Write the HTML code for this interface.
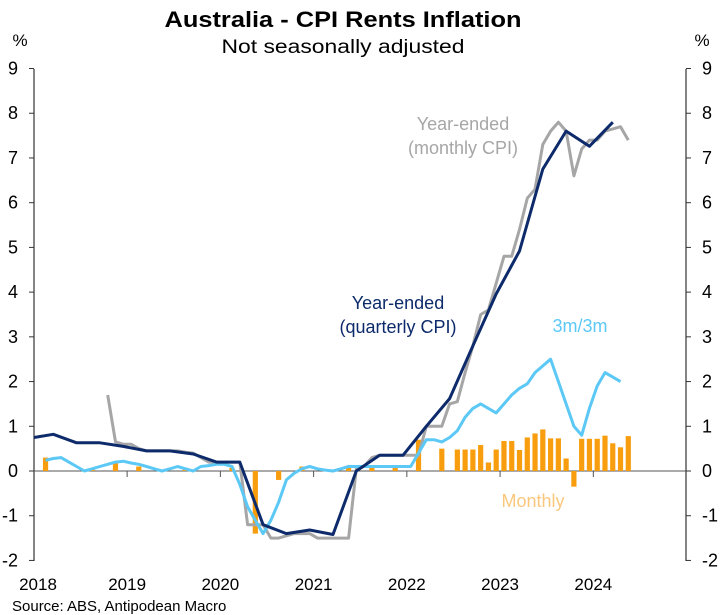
<!DOCTYPE html>
<html><head><meta charset="utf-8"><style>
html,body{margin:0;padding:0;background:#fff;}
svg{display:block;font-family:"Liberation Sans",Arial,sans-serif;}
</style></head><body>
<svg id="chart" width="720" height="615" viewBox="0 0 720 615">
<text x="343" y="27" text-anchor="middle" font-size="22" font-weight="bold" textLength="357" lengthAdjust="spacingAndGlyphs">Australia - CPI Rents Inflation</text>
<text x="343" y="53" text-anchor="middle" font-size="19" textLength="243" lengthAdjust="spacingAndGlyphs">Not seasonally adjusted</text>
<text x="20" y="46" text-anchor="middle" font-size="17">%</text>
<text x="702" y="46" text-anchor="middle" font-size="17">%</text>
<g id="axes"></g>
<g id="bars"></g>
<g id="lines"></g>
<text x="463" y="130" text-anchor="middle" font-size="18" fill="#a6a6a6">Year-ended</text>
<text x="463" y="154" text-anchor="middle" font-size="18" fill="#a6a6a6">(monthly CPI)</text>
<text x="398" y="309" text-anchor="middle" font-size="18" fill="#0d2a6b">Year-ended</text>
<text x="398" y="333" text-anchor="middle" font-size="18" fill="#0d2a6b">(quarterly CPI)</text>
<text x="580" y="332" text-anchor="middle" font-size="18" fill="#5bc8f5">3m/3m</text>
<text x="533" y="507" text-anchor="middle" font-size="18" fill="#fac87d">Monthly</text>
<text x="12" y="611" font-size="15">Source: ABS, Antipodean Macro</text>
</svg>
<script>
const yTicks=[9,8,7,6,5,4,3,2,1,0,-1,-2];
const yearLabels=["2018","2019","2020","2021","2022","2023","2024"];
const quarterlyIdx=[0,1,2,3,4,5,6,7,8,9,10,11,12,13,14,15,16,17,18,19,20,21,22,23,24,25];
const quarterlyVals=[0.75,0.82,0.63,0.63,0.55,0.45,0.45,0.38,0.2,0.2,-1.2,-1.4,-1.32,-1.42,0,0.35,0.35,1.0,1.62,2.8,3.96,4.92,6.75,7.6,7.26,7.8];
const monthlyStart=10;
const monthlyVals=[1.7,0.65,0.6,0.6,0.5,0.45,0.45,0.45,0.45,0.45,0.42,0.4,0.3,0.2,0.2,0.2,0.2,0.2,-1.2,-1.2,-1.2,-1.5,-1.5,-1.45,-1.4,-1.4,-1.4,-1.5,-1.5,-1.5,-1.5,-1.5,0.05,0.1,0.3,0.35,0.35,0.35,0.35,0.35,0.35,1.0,1.0,1.0,1.5,1.55,2.2,2.8,3.5,3.6,4.2,4.8,4.8,5.4,6.1,6.3,7.3,7.6,7.8,7.6,6.6,7.2,7.4,7.4,7.6,7.65,7.7,7.4];
const threeStart=2;
const threeVals=[0.24,0.28,0.3,0.2,0.1,0.0,0.05,0.1,0.15,0.2,0.22,0.18,0.15,0.1,0.05,0.0,0.05,0.1,0.05,0.0,0.1,0.12,0.15,0.15,0.1,-0.3,-0.8,-1.1,-1.4,-1.1,-0.7,-0.2,-0.05,0.05,0.1,0.05,0.02,0.0,0.05,0.1,0.1,0.1,0.1,0.1,0.1,0.1,0.1,0.1,0.4,0.7,0.7,0.65,0.75,0.9,1.2,1.4,1.5,1.4,1.3,1.5,1.7,1.85,1.95,2.2,2.35,2.5,2.0,1.5,1.0,0.8,1.4,1.9,2.2,2.1,2.0];
const barMonths=[2,8,11,14,20,26,29,32,35,41,44,47,50,53,55,56,57,58,59,60,61,62,63,64,65,66,67,68,69,70,71,72,73,74,75,76,77];
const barVals=[0.3,0.05,0.2,0.1,0.07,0.07,-1.4,-0.2,0.1,0.07,0.07,0.07,0.7,0.5,0.48,0.48,0.48,0.58,0.19,0.48,0.67,0.67,0.47,0.75,0.84,0.93,0.73,0.73,0.28,-0.35,0.72,0.72,0.72,0.79,0.62,0.53,0.78];

const NS="http://www.w3.org/2000/svg";
const L=34,R=686,T=69,B=561;
function y(v){return 471-v*44.72;}
function x(m){return 30+m*7.77;}
function mk(tag,attrs,parent){const e=document.createElementNS(NS,tag);for(const k in attrs)e.setAttribute(k,attrs[k]);parent.appendChild(e);return e;}
const axes=document.getElementById('axes');
let e=mk('line',{x1:L,y1:T,x2:L,y2:B,stroke:'#333','stroke-width':1.2},axes);


e=mk('line',{x1:R,y1:T,x2:R,y2:B,stroke:'#333','stroke-width':1.2},axes);


e=mk('line',{x1:L-5,y1:y(0),x2:R+5,y2:y(0),stroke:'#555','stroke-width':1},axes);


yTicks.forEach(v=>{
  let t=mk('line',{x1:L-5,y1:y(v),x2:L,y2:y(v),stroke:'#333'},axes);
  
  
  t=mk('line',{x1:R,y1:y(v),x2:R+5,y2:y(v),stroke:'#333'},axes);
  
  
  let tx=mk('text',{x:18,y:y(v)+6,'text-anchor':'end','font-size':18},axes);tx.textContent=v;
  
  
  tx=mk('text',{x:702,y:y(v)+6,'text-anchor':'start','font-size':18},axes);tx.textContent=v;
  
  
});
yearLabels.forEach((lab,i)=>{
  const xx=x(i*12+0.5);
  if(i>0){let t=mk('line',{x1:xx,y1:y(0),x2:xx,y2:y(0)+6,stroke:'#555'},axes);
  
  }
  let tx=mk('text',{x:i==0?38:xx,y:590,'text-anchor':'middle','font-size':17},axes);tx.textContent=lab;
  
  
});
const bars=document.getElementById('bars');
barMonths.forEach((m,i)=>{
  const v=barVals[i];const top=Math.min(y(v),y(0));const h=Math.abs(y(v)-y(0));
  const b=mk('rect',{x:x(m)-2.6,y:top,width:5.2,height:h,fill:'#f79d0e'},bars);
  
  
});
const lines=document.getElementById('lines');
function poly(pts,col,w,name){
  const p=mk('polyline',{points:pts.map(a=>a[0].toFixed(1)+','+a[1].toFixed(1)).join(' '),fill:'none',stroke:col,'stroke-width':w,'stroke-linejoin':'round'},lines);
  
  
}
poly(monthlyVals.map((v,i)=>[x(monthlyStart+i),y(v)]),'#a6a6a6',3,'monthly-cpi-line');
poly(threeVals.map((v,i)=>[x(threeStart+i),y(v)]),'#5bc8f5',3,'3m-3m-line');
poly(quarterlyVals.map((v,i)=>[Math.max(L,x(quarterlyIdx[i]*3)),y(v)]),'#0d2a6b',3,'quarterly-cpi-line');
</script>
</body></html>
